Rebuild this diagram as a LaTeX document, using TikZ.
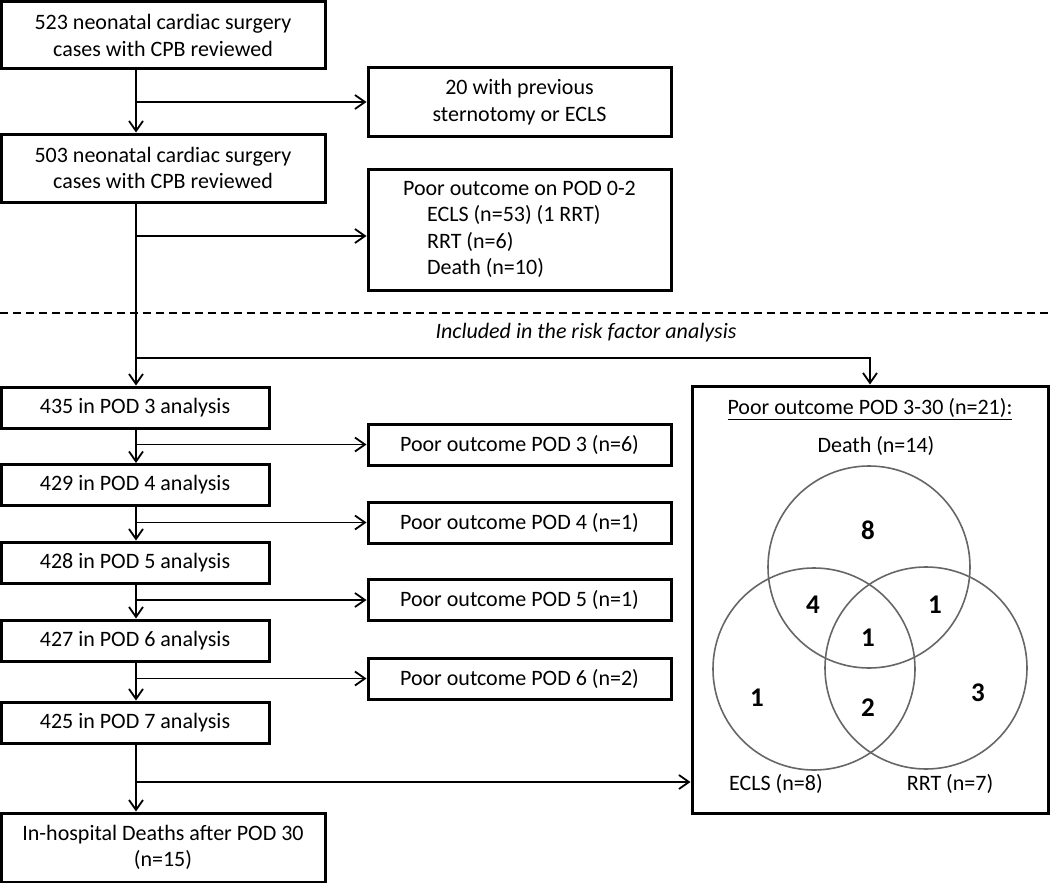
\documentclass[tikz,border=0pt]{standalone}
\usepackage{fontspec}
\setmainfont{Carlito}
\usetikzlibrary{positioning,arrows.meta}

\begin{document}
\begin{tikzpicture}[x=1pt, y=-1pt,
    every node/.style={font=\fontsize{22}{26.5}\selectfont},
    box/.style={rectangle, draw, line width=3pt, inner sep=0pt, minimum width=324pt, align=center},
    podbox/.style={rectangle, draw, line width=3pt, inner sep=0pt, minimum width=268pt, minimum height=41pt},
    outbox/.style={rectangle, draw, line width=3pt, inner sep=0pt, minimum width=303pt, minimum height=41pt},
    flow/.style={line width=1.8pt, -{Straight Barb[length=10pt,width=14pt]}},
    venn/.style={circle, draw=black!60, line width=1.6pt, inner sep=0pt, minimum size=202pt},
    count/.style={font=\fontsize{27}{30}\selectfont\bfseries}]
    \useasboundingbox (0,0) rectangle (1050,883);
    \coordinate (trunk) at (136,0);

    % screening
    \node[box, minimum height=67pt] (n523) at (163,35.5) {523 neonatal cardiac surgery\\cases with CPB reviewed};
    \node[outbox, minimum height=68pt, align=center] (prev) at (519.5,102) {20 with previous\\sternotomy or ECLS};
    \node[box, minimum height=68pt] (n503) at (163,168) {503 neonatal cardiac surgery\\cases with CPB reviewed};
    \node[outbox, minimum height=121pt, align=left] (pod02) at (519.5,229.5) {Poor outcome on POD 0-2\\\hspace*{24pt}ECLS (n=53) (1 RRT)\\\hspace*{24pt}RRT (n=6)\\\hspace*{24pt}Death (n=10)};

    \draw[flow] (n523.south -| trunk) -- (n503.north -| trunk);
    \draw[flow] (prev.west -| trunk) -- (prev.west);
    \draw[flow] (trunk |- 0,236) -- (pod02.west |- 0,236);

    \draw[line width=1.6pt, dash pattern=on 8pt off 5pt] (0,313) -- (1050,313);
    \node[font=\fontsize{22}{26.5}\selectfont\itshape] (incl) at (586,333) {Included in the risk factor analysis};

    % daily analysis
    \node[podbox] (p3) at (135,407.5) {435 in POD 3 analysis};
    \node[podbox] (p4) at (135,485) {429 in POD 4 analysis};
    \node[podbox] (p5) at (135,562.5) {428 in POD 5 analysis};
    \node[podbox] (p6) at (135,640.5) {427 in POD 6 analysis};
    \node[podbox] (p7) at (135,722.5) {425 in POD 7 analysis};
    \node[box, minimum height=69pt] (late) at (163,847.5) {In-hospital Deaths after POD 30\\(n=15)};

    \node[outbox] (o3) at (519.5,444.5) {Poor outcome POD 3 (n=6)};
    \node[outbox] (o4) at (519.5,522.5) {Poor outcome POD 4 (n=1)};
    \node[outbox] (o5) at (519.5,600) {Poor outcome POD 5 (n=1)};
    \node[outbox] (o6) at (519.5,678.5) {Poor outcome POD 6 (n=2)};

    \node[rectangle, draw, line width=3pt, inner sep=0pt, minimum width=356pt, minimum height=427pt] (vbox) at (870,599.5) {};

    \draw[flow] (n503.south -| trunk) -- (p3.north -| trunk);
    \draw[flow] (p3.south -| trunk) -- (p4.north -| trunk);
    \draw[flow] (o3.west -| trunk) -- (o3.west);
    \draw[flow] (p4.south -| trunk) -- (p5.north -| trunk);
    \draw[flow] (o4.west -| trunk) -- (o4.west);
    \draw[flow] (p5.south -| trunk) -- (p6.north -| trunk);
    \draw[flow] (o5.west -| trunk) -- (o5.west);
    \draw[flow] (p6.south -| trunk) -- (p7.north -| trunk);
    \draw[flow] (o6.west -| trunk) -- (o6.west);
    \draw[flow] (p7.south -| trunk) -- (late.north -| trunk);
    \draw[flow] (trunk |- 0,358) -| (vbox.north);
    \draw[flow] (trunk |- 0,782) -- (vbox.west |- 0,782);

    % venn
    \node (vtitle) at (870,409) {\underline{Poor outcome POD 3-30 (n=21):}};
    \node (death) at (876,446) {Death (n=14)};
    \node[venn] (cdeath) at (869,567) {};
    \node[venn] (cecls) at (814,669) {};
    \node[venn] (crrt) at (926,668) {};
    \node[count] (k8) at (868,530) {8};
    \node[count] (k4) at (813,605) {4};
    \node[count] (k1a) at (935,605) {1};
    \node[count] (k1b) at (868,638) {1};
    \node[count] (k1c) at (757,698) {1};
    \node[count] (k2) at (868,708) {2};
    \node[count] (k3) at (978,693) {3};
    \node (lecls) at (776,784) {ECLS (n=8)};
    \node (lrrt) at (950,784) {RRT (n=7)};
\end{tikzpicture}
\end{document}
